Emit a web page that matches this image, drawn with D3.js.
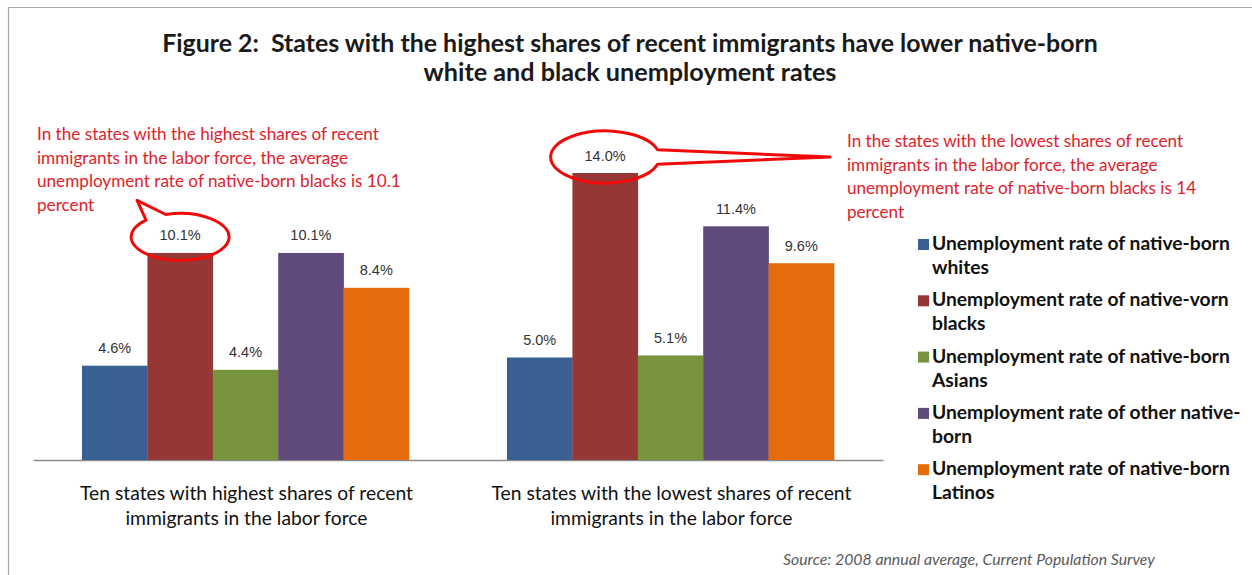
<!DOCTYPE html>
<html><head><meta charset="utf-8">
<script src="https://cdn.jsdelivr.net/npm/d3@7"></script>
<style>
html,body{margin:0;padding:0;background:#fff;}
svg{display:block;}
</style></head>
<body>
<script>
// ---- data ----
const groups = ["high", "low"];
const groupLabels = [
  ["Ten states with highest shares of recent", "immigrants in the labor force"],
  ["Ten states with the lowest shares of recent", "immigrants in the labor force"]
];
const seriesNames = [
  ["Unemployment rate of native-born", "whites"],
  ["Unemployment rate of native-vorn", "blacks"],
  ["Unemployment rate of native-born", "Asians"],
  ["Unemployment rate of other native-", "born"],
  ["Unemployment rate of native-born", "Latinos"]
];
const whites  = [4.6, 5.0];
const blacks  = [10.1, 14.0];
const asians  = [4.4, 5.1];
const others  = [10.1, 11.4];
const latinos = [8.4, 9.6];
const seriesValues = [whites, blacks, asians, others, latinos];
const seriesColors = ["#386092", "#953735", "#77933c", "#604a7b", "#e46c0a"];
const titleLines = [
  "Figure 2:  States with the highest shares of recent immigrants have lower native-born",
  "white and black unemployment rates"
];
const noteLeft = [
  "In the states with the highest shares of recent",
  "immigrants in the labor force, the average",
  "unemployment rate of native-born blacks is 10.1",
  "percent"
];
const noteRight = [
  "In the states with the lowest shares of recent",
  "immigrants in the labor force, the average",
  "unemployment rate of native-born blacks is 14",
  "percent"
];
const sourceText = "Source: 2008 annual average, Current Population Survey";

// ---- layout ----
const W = 1252, H = 575;
const svg = d3.select("body").append("svg").attr("width", W).attr("height", H);
const SANS = "Lato, 'Open Sans', 'DejaVu Sans', sans-serif";

function fit(sel, target) {
  const len = sel.node().getComputedTextLength();
  const fs = parseFloat(sel.attr("font-size"));
  sel.attr("font-size", (fs * target / len).toFixed(2));
}

// frame
svg.append("line").attr("x1", 8).attr("x2", W).attr("y1", 7.5).attr("y2", 7.5).attr("stroke", "#a6a6a6").attr("stroke-width", 1.2);
svg.append("line").attr("x1", 8.5).attr("x2", 8.5).attr("y1", 7).attr("y2", H).attr("stroke", "#a6a6a6").attr("stroke-width", 1.2);

// title
const titleW = [936, 413];
titleLines.forEach((t, i) => {
  const s = svg.append("text").attr("x", 630).attr("y", 52 + i * 29)
    .attr("text-anchor", "middle").attr("font-family", SANS).attr("font-weight", "bold")
    .attr("font-size", 22).attr("fill", "#1a1a1a").attr("xml:space", "preserve").text(t);
  fit(s, titleW[i]);
});

// scales
const x0 = d3.scaleBand().domain(groups).range([33, 883]).paddingInner(0.2306).paddingOuter(0.1153);
const x1 = d3.scaleBand().domain(d3.range(seriesValues.length)).range([0, x0.bandwidth()]);
const y = d3.scaleLinear().domain([0, 16]).range([460, 132]);

// axis line
const xAxis = svg.append("g").attr("transform", `translate(0,${y(0)})`)
  .call(d3.axisBottom(x0).tickSize(0).tickFormat(""));
xAxis.select(".domain").attr("stroke", "#8c8c8c").attr("stroke-width", 1.5);

// bars
const fmt = d3.format(".1f");
let catScale = 1;
groups.forEach((g, gi) => {
  seriesValues.forEach((vals, si) => {
    const v = vals[gi];
    const bx = x0(g) + x1(si);
    svg.append("rect").attr("x", bx).attr("y", y(v))
      .attr("width", x1.bandwidth() + 0.3).attr("height", y(0) - y(v))
      .attr("fill", seriesColors[si]);
    svg.append("text").attr("x", bx + x1.bandwidth() / 2).attr("y", y(v) - 12.5)
      .attr("text-anchor", "middle").attr("font-family", "'Liberation Sans', Arial, sans-serif")
      .attr("font-size", 14.5).attr("fill", "#333").text(fmt(v) + "%");
  });
  // category labels
  groupLabels[gi].forEach((line, li) => {
    const s = svg.append("text").attr("class", "cat").attr("x", x0(g) + x0.bandwidth() / 2 + 1).attr("y", 500 + li * 25)
      .attr("text-anchor", "middle").attr("font-family", SANS)
      .attr("font-size", 17).attr("fill", "#111").text(line);
    if (gi === 0 && li === 0) catScale = 333 / s.node().getComputedTextLength();
  });
});
svg.selectAll("text.cat").attr("font-size", (17 * catScale).toFixed(2));

// legend
let legScale = 1;
seriesNames.forEach((lines, i) => {
  const ly = 250 + i * 56.3;
  svg.append("rect").attr("x", 918).attr("y", ly - 11).attr("width", 11).attr("height", 11).attr("fill", seriesColors[i]);
  lines.forEach((t, li) => {
    const s = svg.append("text").attr("class", "leg").attr("x", 932).attr("y", ly + li * 24)
      .attr("font-family", SANS).attr("font-weight", "bold").attr("font-size", 16.5)
      .attr("fill", "#111").text(t);
    if (i === 0 && li === 0) legScale = 298 / s.node().getComputedTextLength();
  });
});
svg.selectAll("text.leg").attr("font-size", (16.5 * legScale).toFixed(2));

// annotations
const RED = "#e0222b";
function note(lines, cls, x, y0, target) {
  let scale = 1;
  lines.forEach((t, i) => {
    const s = svg.append("text").attr("class", cls).attr("x", x).attr("y", y0 + i * 23.5)
      .attr("font-family", SANS).attr("font-size", 15).attr("fill", RED).text(t);
    if (i === 0) scale = target / s.node().getComputedTextLength();
  });
  svg.selectAll("text." + cls).attr("font-size", (15 * scale).toFixed(2));
}
note(noteLeft, "noteL", 37, 140, 342);
note(noteRight, "noteR", 847, 147, 336);

// callouts around the blacks bar labels
function callout(gi, rx, ry, tip, a1, a2) {
  const cx = x0(groups[gi]) + x1(1) + x1.bandwidth() / 2;
  const cy = y(blacks[gi]) - 16;
  const rad = d => d * Math.PI / 180;
  const A = [cx + rx * Math.cos(rad(a1)), cy + ry * Math.sin(rad(a1))];
  const B = [cx + rx * Math.cos(rad(a2)), cy + ry * Math.sin(rad(a2))];
  const T = [cx + tip[0], cy + tip[1]];
  const p = `M${A}L${T}L${B}A${rx},${ry} 0 1 1 ${A}Z`;
  svg.append("path").attr("d", p).attr("fill", "none").attr("stroke", "#f00a0a")
    .attr("stroke-width", 3).attr("stroke-linejoin", "round");
}
callout(0, 49, 23.5, [-43, -36.5], -134, -107);
callout(1, 54.5, 26, [225, 0], -16, 16);

// source
svg.append("text").attr("x", 783).attr("y", 565).attr("font-family", SANS)
  .attr("font-style", "italic").attr("font-size", 13).attr("fill", "#595959")
  .attr("xml:space", "preserve").text(sourceText)
  .call(s => fit(s, 372));
</script>
</body></html>
